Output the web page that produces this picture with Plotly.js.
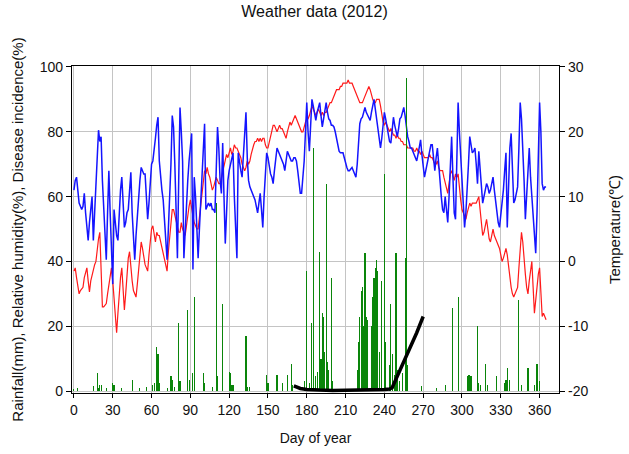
<!DOCTYPE html>
<html>
<head>
<meta charset="utf-8">
<script src="https://cdn.plot.ly/plotly-3.0.1.min.js"></script>
<style>html,body{margin:0;padding:0;background:#fff;}#chart{width:629px;height:454px;}</style>
</head>
<body>
<div id="chart"></div>
<script>
// Daily mean temperature (°C), day 0..365
const temperature = [
-1.5,-1.0,-2.5,-4.0,-5.0,-4.5,-4.2,-4.0,-2.5,-1.5,
-1.0,-3.0,-4.7,-3.0,-2.0,-1.5,-0.5,0.0,2.0,3.5,
4.5,-1.0,-7.0,-7.0,-6.8,-6.5,-5.0,-3.5,-2.0,-1.0,
-3.0,-6.0,-9.0,-11.0,-8.0,-5.0,-2.5,-1.0,-4.0,-7.5,
-5.0,-2.0,0.5,1.5,-1.0,-3.0,-4.5,-5.0,-5.5,-3.5,
-1.0,1.0,3.0,2.0,0.5,-0.5,-1.0,-1.5,1.0,3.5,
5.0,5.5,4.5,3.0,4.5,4.0,4.0,3.0,2.0,1.0,
0.0,-1.0,-1.5,1.5,4.0,6.5,8.0,8.0,7.0,6.0,
5.0,4.5,4.5,6.0,5.0,4.5,4.0,5.5,7.5,8.5,
9.5,8.0,7.0,6.0,5.5,5.0,5.0,7.0,9.0,10.5,
12.5,14.0,13.5,14.5,13.5,13.0,12.0,11.0,11.5,12.5,
13.0,12.5,12.0,12.0,13.0,14.0,15.0,15.5,16.5,16.0,
17.0,17.5,16.5,17.0,18.0,17.5,17.5,17.0,16.5,16.0,
15.0,14.5,14.0,14.5,15.5,15.0,15.5,16.5,17.5,18.0,
18.5,18.5,19.0,18.5,19.0,18.5,19.0,19.0,18.0,17.5,
17.5,18.5,19.5,20.5,21.0,21.0,20.5,20.0,20.5,21.0,
20.5,20.5,20.0,19.5,19.0,20.0,21.0,21.5,21.0,21.5,
22.0,22.5,22.0,21.5,21.0,20.5,20.0,20.0,21.0,21.5,
22.0,22.0,22.5,23.5,24.0,23.5,23.0,22.5,23.0,23.5,
23.0,22.5,23.0,22.5,23.0,23.0,23.5,24.0,24.5,24.5,
25.0,25.5,26.0,26.5,26.5,26.5,27.0,27.0,27.5,27.5,
27.5,27.5,28.0,27.5,27.5,27.5,27.0,26.5,26.0,25.5,
25.0,24.5,24.5,24.5,25.0,25.5,26.0,26.5,27.0,26.5,
25.5,25.0,24.5,24.5,25.0,25.0,25.0,24.0,22.5,21.5,
21.0,21.5,21.0,20.5,20.0,20.5,20.0,19.5,19.5,19.0,
19.5,19.0,19.0,18.5,18.5,18.0,18.0,18.0,17.5,17.5,
17.5,17.5,17.5,17.0,17.0,17.5,17.0,17.0,16.5,17.0,
16.5,16.0,16.0,16.0,16.0,16.5,16.0,16.0,15.5,15.0,
15.0,15.5,14.5,14.0,14.0,14.0,13.0,12.0,11.0,10.5,
12.0,13.5,14.0,13.0,12.5,13.5,13.0,13.5,11.0,9.5,
8.0,7.5,7.0,6.5,7.5,8.5,9.0,8.5,9.0,9.0,
9.0,9.0,9.5,10.0,8.0,5.5,4.0,4.5,5.5,6.5,
5.0,3.5,3.0,4.0,5.0,4.0,3.5,3.0,2.5,2.0,
1.0,0.0,0.5,1.5,2.0,1.0,-1.0,-3.0,-4.0,-5.0,
-5.5,-5.0,-4.5,-4.0,-1.0,2.0,4.5,3.0,0.0,-2.0,
-4.0,-5.0,-3.0,-1.0,0.0,-4.0,-8.0,-6.0,-3.5,-2.0,
-1.0,-4.0,-8.5,-8.0,-8.5,-9.0
];

// Daily relative humidity (%), day 0..365
const humidity = [
62,65,66,62,58,57,56,57,61,55,
50,46.5,52,56,60,46.5,55,68,74,80.5,
77,78.5,65,55,45,40.5,55,68,55,42,
33,56,52,48,46.5,55,62,66,58,50.5,
52,55,56,62,67.5,55,45,40.5,48,55,
60,65,69,68,67,67,60,53,58,65,
70,71,74,78,82,84.5,71,66,62,59,
52,45,40.5,50,59,70,85,81.5,70,55,
41,65,87.5,80,71,41,50,58,65,71,
75,79.5,37.5,66,60,50,41,50,58,66,
74,82.5,56,57,58,57,58,56,56,55,
70,81.5,75,65,61,76.5,60,45.5,55,65,
68,70,72,73.5,60,48,41,73.5,70,68,
66,72,80,86,72,65,63,62,61,60,
59,57,55,58,61,56,50.5,60,68,73.5,
72,69,67,66,64,68,72,75,74,73,
72,71,70,68,71,74,73,72,71,71,
72,72,71,68,64,61,61,66,71,80,
89,80,74,82,90,88,86,83.5,86,88,
89,85,81.5,84,87,89,86,84,83.5,82,
82,81.5,80,78,76,74,73.5,73.5,73.5,72,
70,69,68,68,68.5,69,68,67,66,70,
78,82.5,84,84.5,86,87.5,86,85,84,83.5,
86,88,90,87,83.5,80,78,75,78,83,
86,84,81.5,79,77,76.5,80,84.5,82,80,
78.5,81,84,84.5,86,87.5,85,81,78.5,77,
75,75,74,73,72,71,73,76,77.5,73,
69,66,68,70,72,74,76,76,72,68,
72,75,70,64,60,56,55,60,56,52,
60,72,78.5,66,55,53,70,89,80,72,
68,58,50.5,55,61,70,78.5,76,73.5,74,
75,70,64,74,68,62,58,60,62,64,
63,61,62,64,66,62,58,55,52,50.5,
54,59,62,68,73.5,50.5,65,75,79.5,70,
58,59,61,63,75,89,84,76.5,65,53,
60,70,75,66,60,56,50,42.5,55,70,
89,80,64,62,63,63
];

// Rainfall (mm) on rainy days
const rainDays = [0,3,15,18,19,20,21,25,30,31,37,45,51,56,61,62,64,65,66,72,75,76,78,81,82,88,89,92,93,100,101,107,110,111,115,120,121,122,123,133,134,136,149,150,157,161,165,168,169,178,180,182,184,185,187,188,190,191,192,193,194,195,196,197,199,200,219,220,221,222,223,224,225,226,227,230,231,232,233,234,235,236,238,240,241,244,245,246,248,249,250,252,254,256,257,258,269,280,287,293,297,304,305,306,307,312,313,314,318,320,327,333,334,335,337,344,346,351,356,358,360];
const rainMm = [0.5,1,1.5,5.5,1,2,2,1,2.5,2,1,3.5,1,1.3,2,2.5,13.5,11.5,2.5,1,4.5,3.5,1.3,21,3,25,3.5,5.5,29,5.5,2.5,1.3,58,4.5,27,6,5.5,2,2,17,1.3,1.3,5,2.5,5,2.5,5,8.5,2,3,37,2.5,21,75,4.5,6,43,10,24,23,12,64,9,6.5,35,3,6.5,15,23,31,32,20,42.5,23,22,20,29,35,38,40.5,37,12,34,67,15,8,27,11.5,5,42.5,6.5,3,5.5,41,96.5,8,1.5,1,2,25.5,29,4.5,5,5,4.5,20,2.5,2,8.5,2,4.5,2.5,3.5,7,3.5,28,2,7,2,8.5,3];

// Disease incidence (%)
const diseaseDays = [170,172,175,180,185,190,200,210,220,230,240,244,246,250,255,260,265,270];
const diseaseInc = [1.6,1.2,0.8,0.5,0.3,0.3,0.2,0.2,0.3,0.4,0.5,0.6,1.0,4.5,9,13.5,18,23];

const xTicks = [0,30,60,90,120,150,180,210,240,270,300,330,360];

const days = temperature.map((_, i) => i);
const FONT = 'Liberation Sans, Arial, sans-serif';

const traces = [
  {x: days, y: temperature, type: 'scatter', mode: 'lines', yaxis: 'y',
   line: {color: '#ff1a1a', width: 1.2}, hoverinfo: 'skip'},
  {x: days, y: humidity, type: 'scatter', mode: 'lines', yaxis: 'y2',
   line: {color: '#1414ff', width: 1.5}, hoverinfo: 'skip'},
  {x: rainDays, y: rainMm, type: 'bar', yaxis: 'y3', width: 0.85,
   marker: {color: '#0a850a', line: {width: 0}}, hoverinfo: 'skip'},
  {x: diseaseDays, y: diseaseInc, type: 'scatter', mode: 'lines', yaxis: 'y3',
   line: {color: '#000000', width: 3.5}, hoverinfo: 'skip'}
];

const layout = {
  width: 629, height: 454,
  margin: {l: 72, r: 70, t: 66, b: 61},
  paper_bgcolor: '#ffffff', plot_bgcolor: '#ffffff',
  showlegend: false,
  font: {family: FONT, size: 14, color: '#111'},
  title: {text: 'Weather data (2012)', font: {family: FONT, size: 16, color: '#111'},
          x: 0.5, xanchor: 'center', y: 0.975, yanchor: 'middle'},
  xaxis: {
    range: [-1.5, 375], tickmode: 'array', tickvals: xTicks, ticktext: xTicks.map(String),
    showgrid: true, gridcolor: '#c4c4c4', gridwidth: 1, zeroline: false,
    showline: true, linecolor: '#000', linewidth: 1.2, mirror: true,
    ticks: 'outside', ticklen: 4, tickcolor: '#000',
    tickfont: {family: FONT, size: 14, color: '#111'},
    title: {text: 'Day of year', font: {family: FONT, size: 14, color: '#111'}, standoff: 16}
  },
  yaxis: {
    range: [-20.3, 30.15], side: 'right', tickmode: 'array',
    tickvals: [-20,-10,0,10,20,30], ticktext: ['-20','-10','0','10','20','30'],
    showgrid: false, zeroline: false, showline: true, linecolor: '#000', linewidth: 1.2,
    ticks: 'outside', ticklen: 5, tickcolor: '#000',
    tickfont: {family: FONT, size: 14, color: '#111'},
    title: {text: 'Temperature(\u2103)', font: {family: FONT, size: 15, color: '#111'}, standoff: 22}
  },
  yaxis2: {
    range: [-0.6, 100.3], side: 'left', overlaying: 'y', tickmode: 'array',
    tickvals: [0,20,40,60,80,100], ticktext: ['0','20','40','60','80','100'],
    showgrid: true, gridcolor: '#c4c4c4', gridwidth: 1, zeroline: false,
    showline: true, linecolor: '#000', linewidth: 1.2,
    ticks: 'outside', ticklen: 5, tickcolor: '#000',
    tickfont: {family: FONT, size: 14, color: '#111'},
    title: {text: 'Rainfall(mm), Relative humidity(%), Disease incidence(%)', font: {family: FONT, size: 15, color: '#111'}, standoff: 12}
  },
  yaxis3: {
    range: [-0.6, 100.3], overlaying: 'y', side: 'left', visible: false,
    showgrid: false, zeroline: false
  },
  bargap: 0
};

Plotly.newPlot('chart', traces, layout, {staticPlot: true, displayModeBar: false});
</script>
</body>
</html>
